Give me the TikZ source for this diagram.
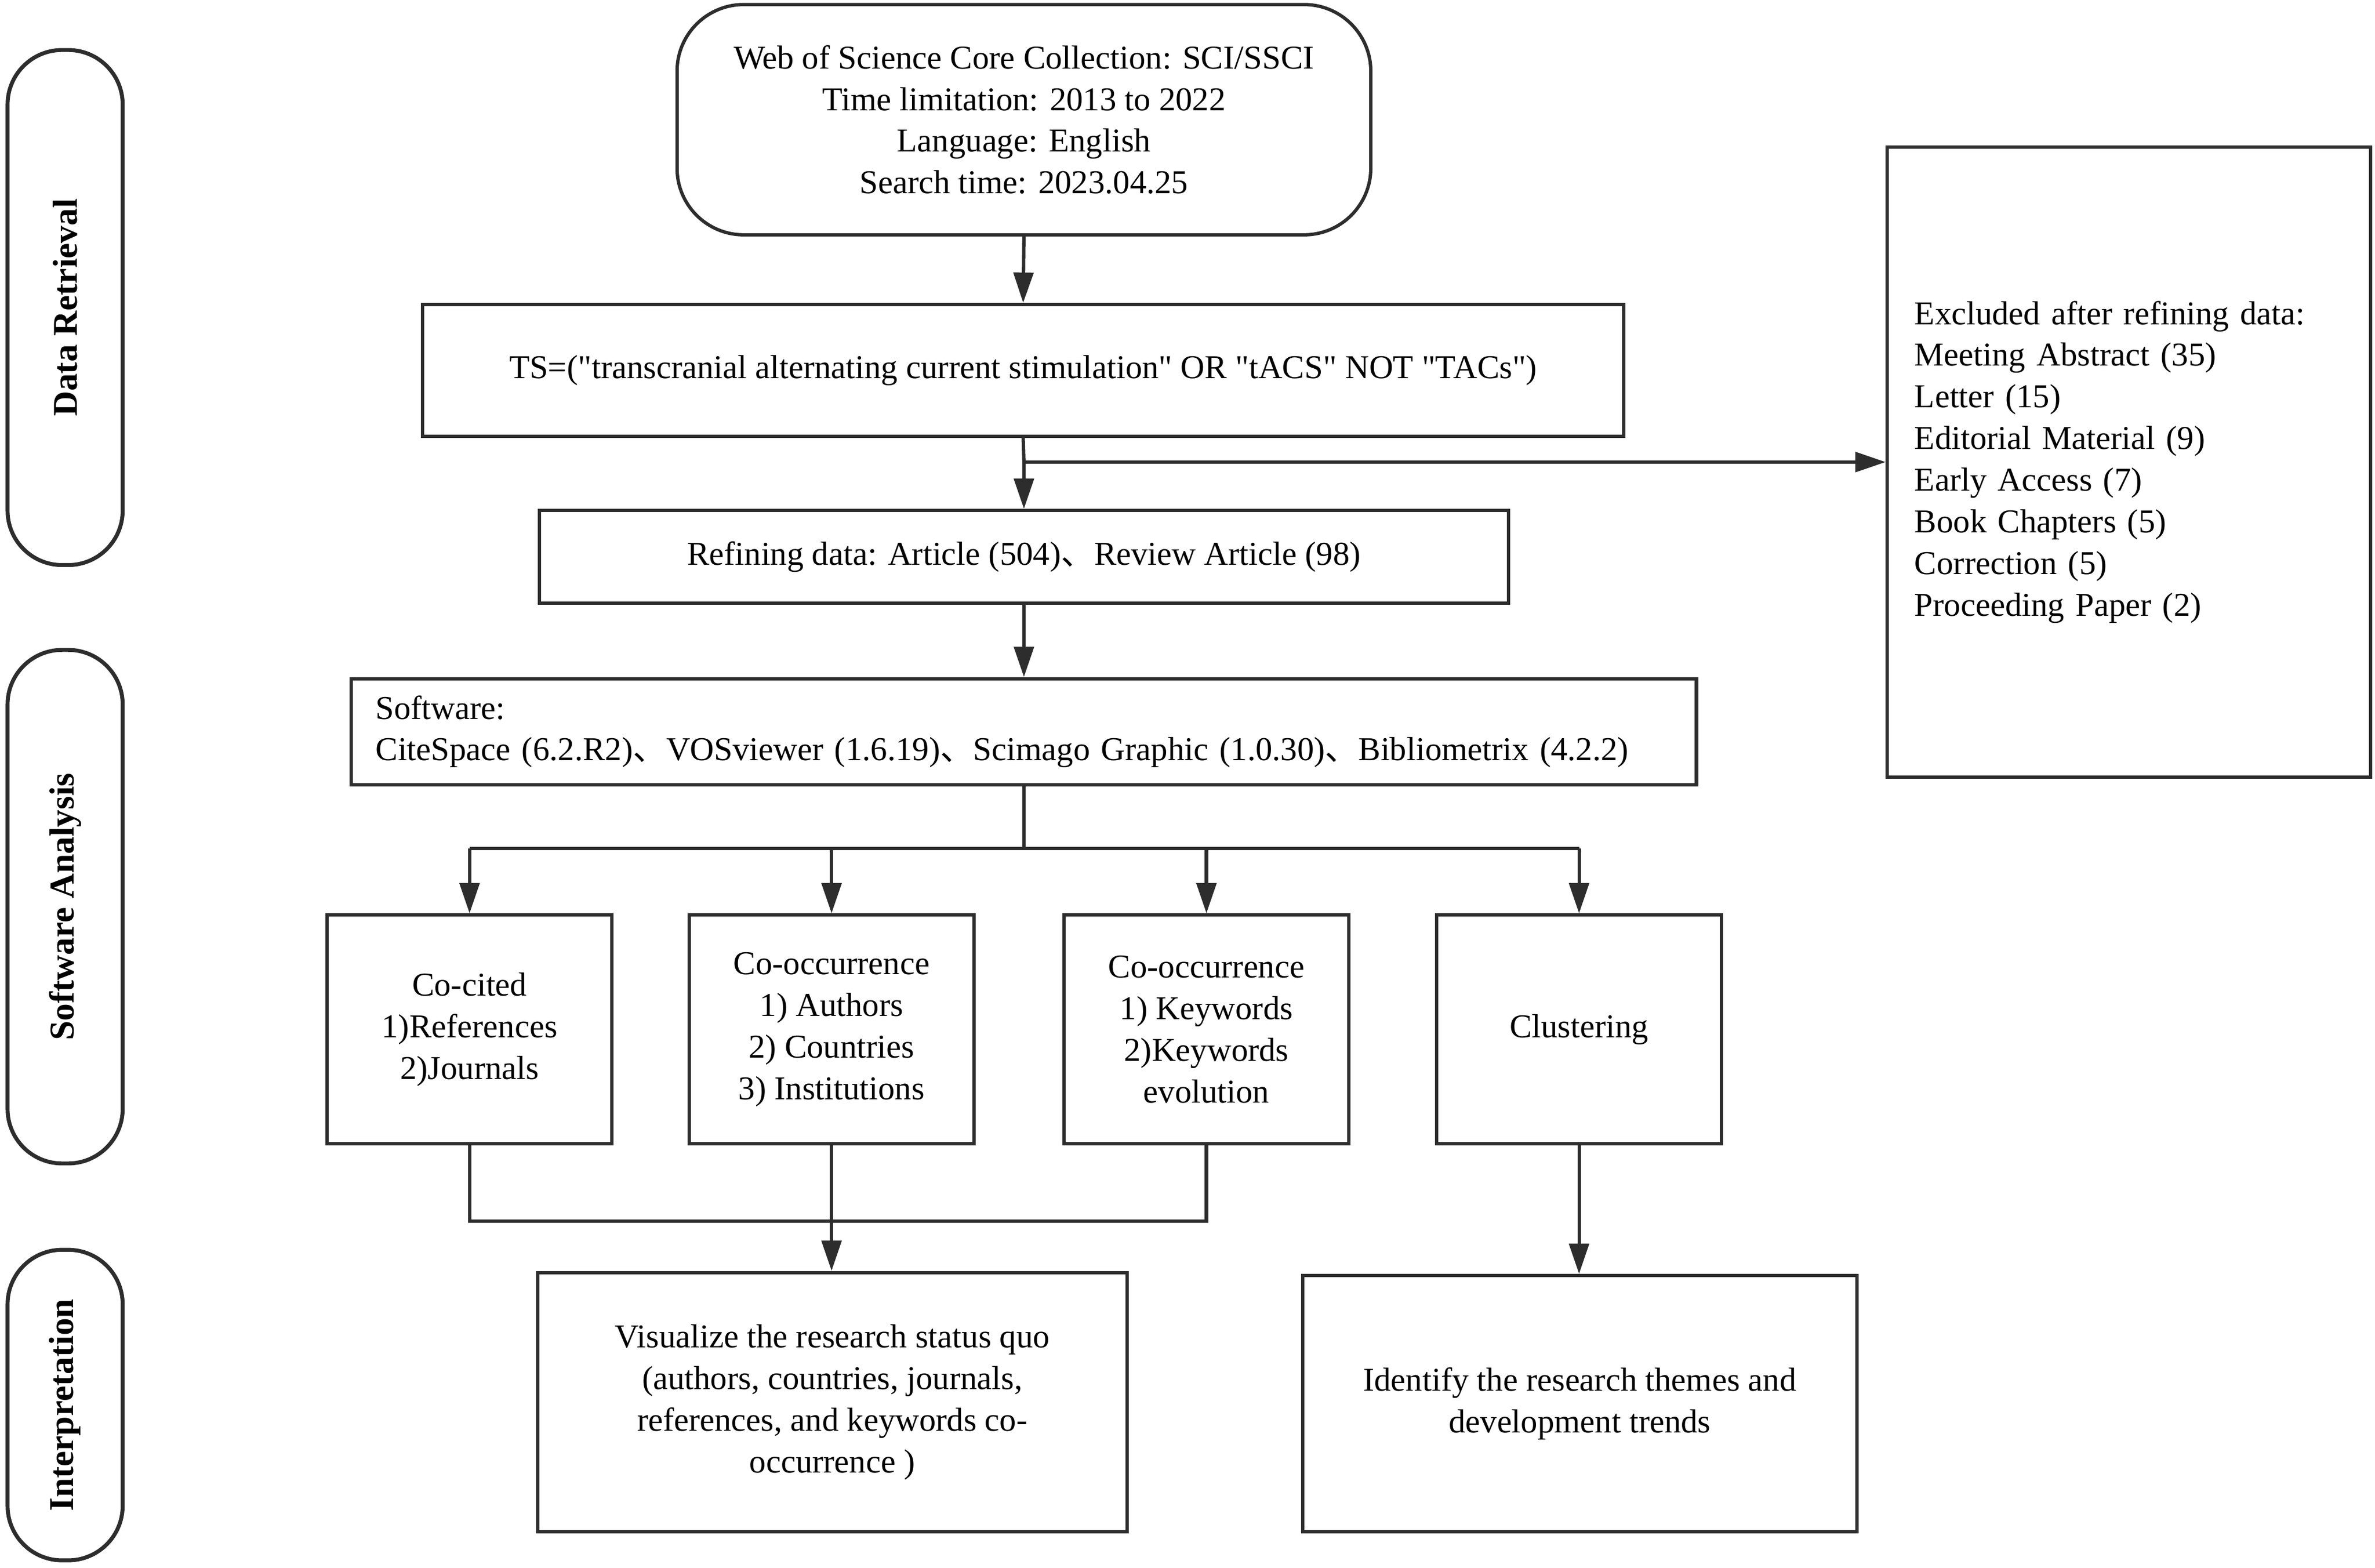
\documentclass[tikz,border=0pt]{standalone}
\usepackage{fontspec}
\setmainfont{Liberation Serif}[Ligatures=TeXOff]
\newfontfamily\cjk{Noto Sans CJK SC}
\usetikzlibrary{arrows.meta}
\definecolor{lc}{RGB}{45,45,45}
\newcommand{\dun}{{\cjk 、}}
\begin{document}
\begin{tikzpicture}[x=0.5pt,y=-0.5pt,
  every node/.style={font=\fontsize{11}{13.75}\selectfont, text=black},
  box/.style={draw=lc, line width=1.1pt, align=center, inner sep=0pt},
  side/.style={draw=lc, line width=1.3pt, rounded corners=18pt, minimum height=38pt,
    inner sep=0pt, rotate=90, font=\fontsize{11.5}{14}\selectfont\bfseries},
  arr/.style={draw=lc, line width=1.1pt, -{Triangle[length=10pt,width=6.5pt]}},
  ln/.style={draw=lc, line width=1.1pt}]
\useasboundingbox (0,0) rectangle (1568,1035);
% side labels
\node[side, minimum width=170pt] (sdr) at (43,203) {Data Retrieval};
\node[side, minimum width=169.5pt] (ssa) at (43,598.5) {Software Analysis};
\node[side, minimum width=102.5pt] (sin) at (43,927.5) {Interpretation};
% boxes
\node[box, rounded corners=22pt, minimum width=229pt, minimum height=76pt] (src) at (676,79)
  {Web of Science Core Collection: SCI/SSCI\\Time limitation: 2013 to 2022\\Language: English\\Search time: 2023.04.25};
\node[box, minimum width=396.5pt, minimum height=43.5pt] (ts) at (675.5,244.5)
  {TS=("transcranial alternating current stimulation" OR "tACS" NOT "TACs")};
\node[box, minimum width=159.5pt, minimum height=208pt, align=left, text width=141.5pt, inner xsep=9pt] (exc) at (1405.5,305)
  {Excluded after refining data:\\Meeting Abstract (35)\\Letter (15)\\Editorial Material (9)\\Early Access (7)\\Book Chapters (5)\\Correction (5)\\Proceeding Paper (2)};
\node[box, minimum width=320pt, minimum height=30.5pt] (ref) at (676,367.5)
  {Refining data: Article (504)\dun Review Article (98)};
\node[box, minimum width=444pt, minimum height=35pt, align=left, text width=428pt, inner xsep=8pt] (sw) at (676,483)
  {Software:\\CiteSpace (6.2.R2)\dun VOSviewer (1.6.19)\dun Scimago Graphic (1.0.30)\dun Bibliometrix (4.2.2)};
\node[box, minimum width=94pt, minimum height=75.5pt] (b1) at (310,679.5) {Co-cited\\1)References\\2)Journals};
\node[box, minimum width=94pt, minimum height=75.5pt] (b2) at (549,679.5) {Co-occurrence\\1) Authors\\2) Countries\\3) Institutions};
\node[box, minimum width=94pt, minimum height=75.5pt] (b3) at (796.5,679.5) {Co-occurrence\\1) Keywords\\2)Keywords\\evolution};
\node[box, minimum width=94pt, minimum height=75.5pt] (b4) at (1042.5,679.5) {Clustering};
\node[box, minimum width=194.5pt, minimum height=85.5pt] (vis) at (549.5,925.5)
  {Visualize the research status quo\\(authors, countries, journals,\\references, and keywords co-\\occurrence )};
\node[box, minimum width=183pt, minimum height=84.5pt] (idf) at (1043,926.5)
  {Identify the research themes and\\development trends};
% connectors
\coordinate (j1) at (676,305);
\coordinate (j2) at (676,560);
\coordinate (bl) at (310,560);
\coordinate (br) at (1042.5,560);
\coordinate (m1) at (310,806);
\coordinate (m3) at (796.5,806);
\draw[arr] (src.south) -- (ts.north);
\draw[ln] (ts.south) -- (j1);
\draw[arr] (j1) -- (ref.north);
\draw[arr] (j1) -- (j1 -| exc.west);
\draw[arr] (ref.south) -- (sw.north);
\draw[ln] (sw.south) -- (j2);
\draw[ln] (bl) -- (br);
\draw[arr] (bl) -- (b1.north);
\draw[arr] (bl -| b2.north) -- (b2.north);
\draw[arr] (bl -| b3.north) -- (b3.north);
\draw[arr] (br) -- (b4.north);
\draw[ln] (b1.south) -- (m1) -- (m3) -- (b3.south);
\draw[arr] (b2.south) -- (b2.south |- vis.north);
\draw[arr] (b4.south) -- (b4.south |- idf.north);
\end{tikzpicture}
\end{document}
